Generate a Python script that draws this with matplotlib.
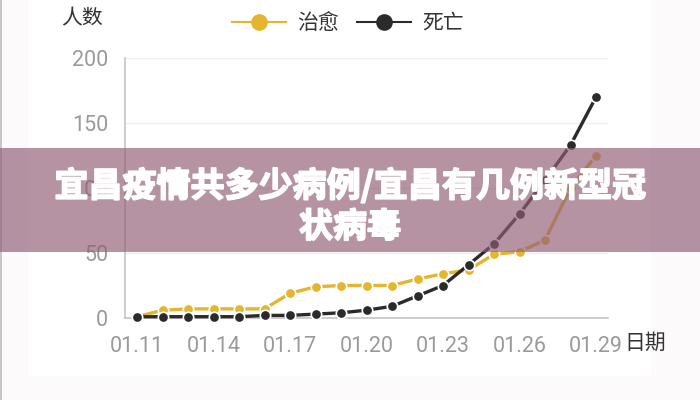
import matplotlib.pyplot as plt
import matplotlib.patheffects as pe
from matplotlib.patches import Rectangle

plt.rcParams['font.family'] = ['Roboto', 'Noto Sans CJK SC', 'DejaVu Sans']

# ----------------------------
# Data
# ----------------------------
dates = ['01.11', '01.12', '01.13', '01.14', '01.15', '01.16', '01.17',
         '01.18', '01.19', '01.20', '01.21', '01.22', '01.23', '01.24',
         '01.25', '01.26', '01.27', '01.28', '01.29']
cured = [1, 6, 7, 7, 7, 7, 19, 24, 25, 25, 25, 30, 34, 37, 49, 51, 60, 100, 125]
deaths = [1, 1, 1, 1, 1, 2, 2, 3, 4, 6, 9, 17, 25, 41, 57, 80, 106, 133, 170]
y_ticks = [0, 50, 100, 150, 200]
shown_dates = ['01.11', '01.14', '01.17', '01.20', '01.23', '01.26', '01.29']
title_text = '宜昌疫情共多少病例/宜昌有几例新型冠\n状病毒'

YELLOW = '#e5b52f'
BLACK = '#2b2b2b'
GRAY = '#9a9a9a'
CJK = ['Noto Sans CJK SC', 'DejaVu Sans']

# ----------------------------
# Figure and axis setup
# ----------------------------
fig = plt.figure(figsize=(7, 4), dpi=100, facecolor='#fdfafc')
# white card behind the chart, thin grey edge on the far left
fig.patches.append(Rectangle((0.04, 0.06), 0.89, 0.94, transform=fig.transFigure,
                             facecolor='white', edgecolor='none', zorder=-5))
fig.patches.append(Rectangle((0, 0), 0.003, 1, transform=fig.transFigure,
                             facecolor='#c8c8c8', edgecolor='none', zorder=-4))
ax = fig.add_axes([0.1786, 0.205, 0.69, 0.65])
ax.set_facecolor('none')

x = list(range(len(dates)))
ax.plot(x, cured, '-', color=YELLOW, linewidth=2.4, marker='o', markersize=7.5,
        markeredgecolor='white', markeredgewidth=1.2, label='治愈', zorder=3,
        clip_on=False)
ax.plot(x, deaths, '-', color=BLACK, linewidth=2.4, marker='o', markersize=7.5,
        markeredgecolor='white', markeredgewidth=1.2, label='死亡', zorder=4,
        clip_on=False)

ax.set_xlim(-0.47, len(dates) - 0.53)
ax.set_ylim(0, 200)
ax.set_yticks(y_ticks)
ax.set_xticks([dates.index(d) for d in shown_dates])
ax.set_xticklabels(shown_dates)
ax.tick_params(axis='both', length=0, labelsize=15.5, labelcolor=GRAY)
ax.tick_params(axis='y', pad=12)
ax.tick_params(axis='x', pad=13)
ax.grid(True, axis='y', color='#eeeeee', linewidth=1)
ax.set_axisbelow(True)
for side in ['top', 'right']:
    ax.spines[side].set_visible(False)
for side in ['left', 'bottom']:
    ax.spines[side].set_color('#c4c4c4')
    ax.spines[side].set_linewidth(1.2)

# Axis captions
fig.text(0.088, 0.955, '人数', fontsize=15, color='#333333', ha='left', va='center',
         family=CJK)
fig.text(0.892, 0.142, '日期', fontsize=15, color='#333333', ha='left', va='center',
         family=CJK)

# Legend
leg = fig.legend(loc='center', bbox_to_anchor=(0.497, 0.943), ncol=2, frameon=False,
                 handlelength=2.6, columnspacing=0.9, handletextpad=0.5,
                 prop={'family': CJK, 'size': 15})
for t in leg.get_texts():
    t.set_color('#333333')
for h in leg.legend_handles:
    h.set_linewidth(1.5)
    h.set_markeredgewidth(0)
    h.set_markersize(12)

# Banner overlay with the headline (covers the 100 tick like the original)
fig.patches.append(Rectangle((0, 0.37), 1, 0.26, transform=fig.transFigure,
                             facecolor=(0.565, 0.365, 0.46), alpha=0.665,
                             edgecolor='none', zorder=10))
fig.text(0.5, 0.485, title_text, fontsize=24.5, color='white', fontweight='heavy',
         ha='center', va='center', linespacing=1.2, zorder=11, family=CJK,
         path_effects=[pe.withStroke(linewidth=1.2, foreground='white')])

fig.savefig('out.png', dpi=100, facecolor=fig.get_facecolor())
